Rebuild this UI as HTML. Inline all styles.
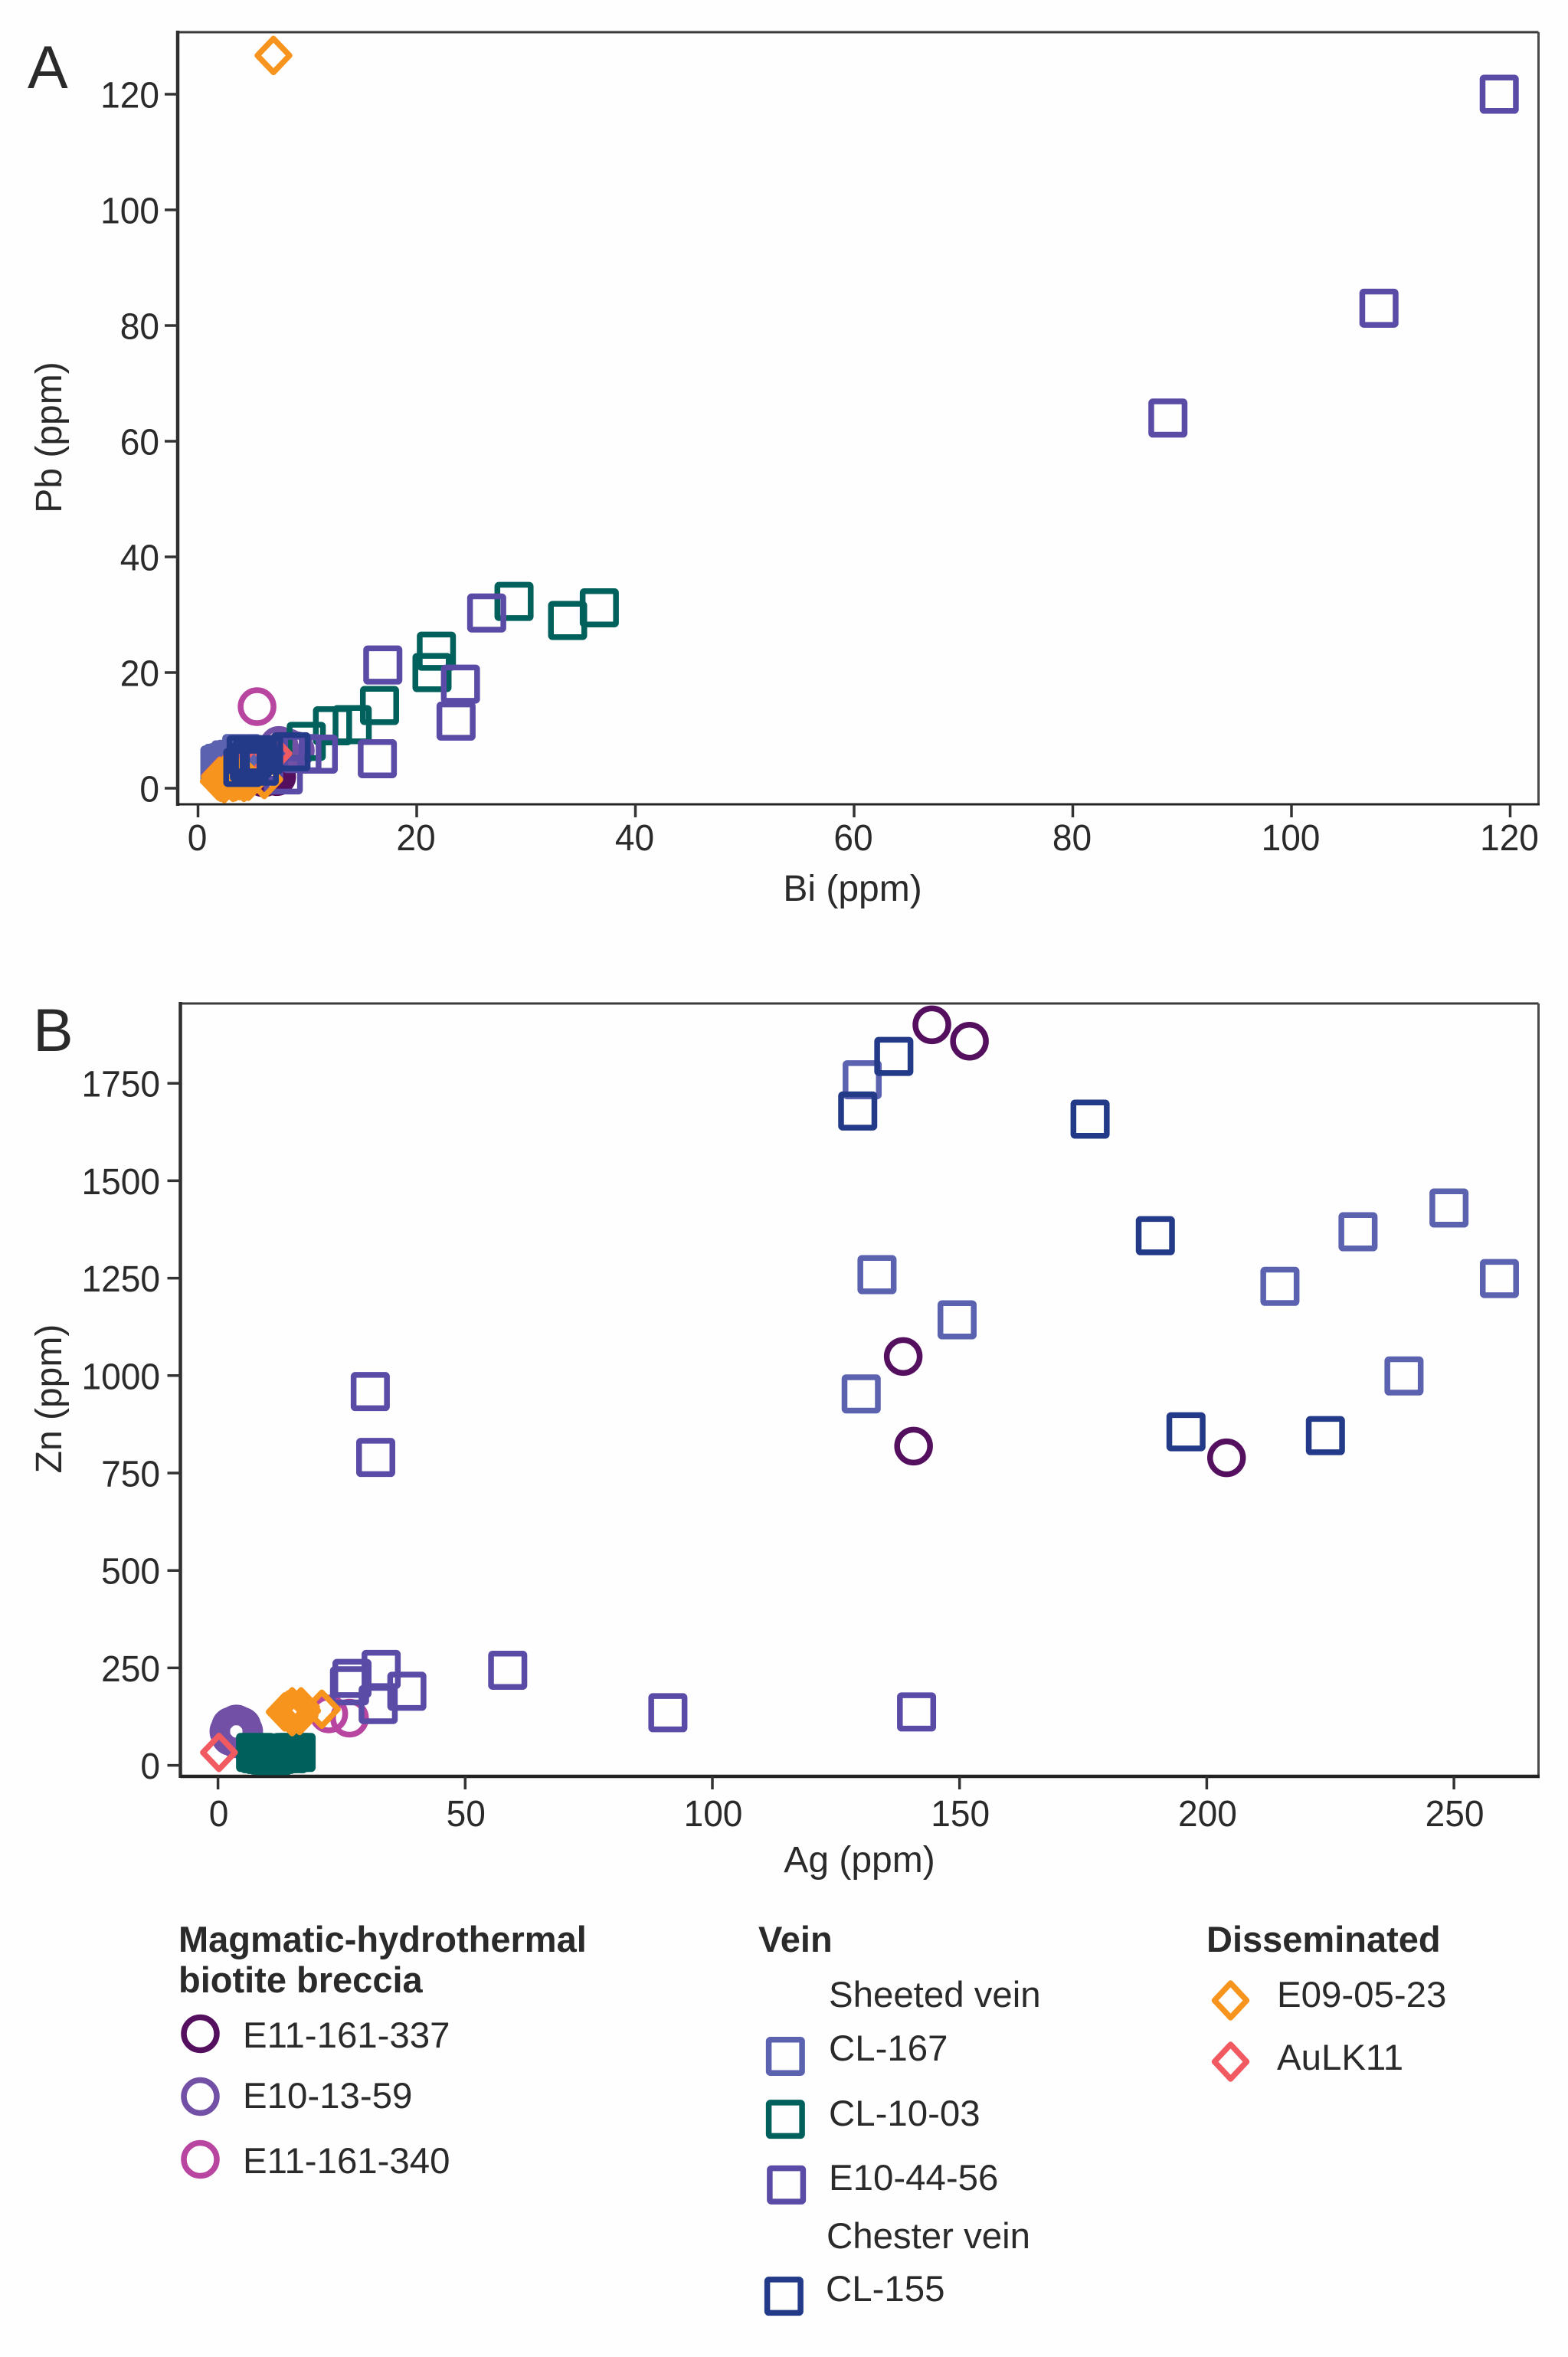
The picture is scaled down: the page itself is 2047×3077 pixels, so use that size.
<!DOCTYPE html>
<html lang="en">
<head>
<meta charset="utf-8">
<title>Bi-Pb and Ag-Zn scatter plots</title>
<style>
html,body{margin:0;padding:0;background:#fefefe;}
svg{display:block;}
text{font-family:"Liberation Sans",sans-serif;fill:#2a2a2a;}
.tick{font-size:48px;}
.axis-title{font-size:48px;}
.panel{font-size:79px;}
.legend-head{font-size:47px;font-weight:bold;}
.legend-text{font-size:47.4px;}
</style>
</head>
<body>
<svg id="chart" xmlns="http://www.w3.org/2000/svg" width="2047" height="3077" viewBox="0 0 2047 3077">
  <rect x="0" y="0" width="2047" height="3077" fill="#fefefe"/>

  <text class="panel" x="36" y="115">A</text>
  <text class="panel" x="43" y="1372">B</text>

  <text class="axis-title" x="1113" y="1176" text-anchor="middle">Bi (ppm)</text>
  <text class="axis-title" text-anchor="middle" transform="translate(80,571) rotate(-90)">Pb (ppm)</text>
  <text class="axis-title" x="1122" y="2444" text-anchor="middle">Ag (ppm)</text>
  <text class="axis-title" text-anchor="middle" transform="translate(80,1826) rotate(-90)">Zn (ppm)</text>

  <g id="panel-a"></g>
  <g id="panel-b"></g>

  <g>
    <text class="legend-head" x="233" y="2548">Magmatic-hydrothermal</text>
    <text class="legend-head" x="233" y="2601">biotite breccia</text>
    <circle cx="261.5" cy="2655" r="21.5" fill="none" stroke="#54105f" stroke-width="7.5"/>
    <text class="legend-text" x="317" y="2673">E11-161-337</text>
    <circle cx="261.5" cy="2737" r="21.5" fill="none" stroke="#7250a6" stroke-width="7.5"/>
    <text class="legend-text" x="317" y="2752">E10-13-59</text>
    <circle cx="261.5" cy="2819" r="21.5" fill="none" stroke="#b8459f" stroke-width="7.5"/>
    <text class="legend-text" x="317" y="2837">E11-161-340</text>
  </g>

  <g>
    <text class="legend-head" x="990" y="2548">Vein</text>
    <text class="legend-text" x="1082" y="2620">Sheeted vein</text>
    <rect x="1003.6" y="2662.7" width="43.5" height="43.5" rx="2" fill="none" stroke="#5b62b0" stroke-width="7.5"/>
    <text class="legend-text" x="1082" y="2690">CL-167</text>
    <rect x="1003.6" y="2744.9" width="43.5" height="43.5" rx="2" fill="none" stroke="#00605c" stroke-width="7.5"/>
    <text class="legend-text" x="1082" y="2775">CL-10-03</text>
    <rect x="1004.9" y="2830.6" width="43.5" height="43.5" rx="2" fill="none" stroke="#5a4ba6" stroke-width="7.5"/>
    <text class="legend-text" x="1082" y="2859">E10-44-56</text>
    <text class="legend-text" x="1079" y="2935">Chester vein</text>
    <rect x="1001.6" y="2975.9" width="43.5" height="43.5" rx="2" fill="none" stroke="#223a87" stroke-width="7.5"/>
    <text class="legend-text" x="1078" y="3004">CL-155</text>
  </g>

  <g>
    <text class="legend-head" x="1575" y="2548">Disseminated</text>
    <polygon points="1606.5,2589 1627.5,2611.5 1606.5,2634 1585.5,2611.5" fill="none" stroke="#f7941d" stroke-width="7.5" stroke-linejoin="round"/>
    <text class="legend-text" x="1667" y="2620">E09-05-23</text>
    <polygon points="1606.5,2669 1627.5,2691.5 1606.5,2714 1585.5,2691.5" fill="none" stroke="#f15a60" stroke-width="7.5" stroke-linejoin="round"/>
    <text class="legend-text" x="1667" y="2702">AuLK11</text>
  </g>
</svg>

<script>
// Panel A tick labels
const biTicks = [0, 20, 40, 60, 80, 100, 120];
const pbTicks = [0, 20, 40, 60, 80, 100, 120];
// Panel B tick labels
const agTicks = [0, 50, 100, 150, 200, 250];
const znTicks = [0, 250, 500, 750, 1000, 1250, 1500, 1750];

// Panel A: Bi (x) and Pb (y), ppm
const biE11337 = [7.2, 6.8, 6.0, 6.5];
const pbE11337 = [2.0, 2.2, 1.8, 2.5];
const biE101359 = [7.4, 8.2, 8.9, 7.6];
const pbE101359 = [7.4, 7.0, 6.5, 6.2];
const biE11340 = [5.4];
const pbE11340 = [14.1];
const biCL167 = [2.3, 3.0, 4.0, 2.6, 2.0, 3.4, 2.7, 3.5, 2.2, 3.1];
const pbCL167 = [4.3, 4.9, 6.0, 4.4, 4.0, 5.0, 3.2, 3.8, 3.6, 4.2];
const biCL1003 = [28.9, 36.7, 33.8, 21.8, 21.4, 16.6, 14.1, 12.3, 9.9];
const pbCL1003 = [32.3, 31.2, 29.0, 23.7, 20.0, 14.3, 11.0, 10.8, 8.1];
const biE104456 = [119, 108, 88.7, 26.4, 16.9, 24.0, 23.6, 16.4, 11.0, 7.8, 6.0, 9.5];
const pbE104456 = [120, 83, 64, 30.3, 21.3, 18.0, 11.6, 5.1, 5.9, 2.3, 4.5, 6.0];
const biAuLK11 = [2.0, 3.0, 4.6, 6.9, 5.5];
const pbAuLK11 = [2.1, 3.5, 5.0, 6.0, 4.5];
const biE090523 = [2.1, 2.3, 2.6, 3.0, 3.4, 3.8, 6.06, 6.9, 1.9, 2.4, 2.8, 3.2, 2.5, 3.6, 4.2, 4.6, 3.0, 2.0];
const pbE090523 = [1.0, 1.6, 1.2, 1.5, 1.1, 1.3, 1.5, 126.7, 1.2, 0.8, 1.9, 1.0, 2.4, 1.9, 1.0, 1.2, 2.4, 2.0];
const biCL155 = [4.1, 4.4, 5.0, 5.6, 6.0, 8.5, 4.7];
const pbCL155 = [3.6, 5.8, 5.2, 3.8, 5.8, 6.3, 4.5];

// Panel B: Ag (x) and Zn (y), ppm
const agE11337 = [144.4, 152.0, 138.6, 140.7, 204.0];
const znE11337 = [1900, 1858, 1049, 819, 789];
const agE101359 = [3.7, 2.2, 5.2, 3.7, 2.6, 4.8, 2.6, 4.8];
const znE101359 = [106, 87, 87, 68, 100, 100, 74, 74];
const agE11340 = [26.6, 22.4];
const znE11340 = [121, 132];
const agCL167 = [130.3, 133.3, 149.5, 130.1, 214.8, 230.6, 249.0, 259.2, 239.9];
const znCL167 = [1759, 1259, 1143, 953, 1229, 1369, 1430, 1249, 999];
const agCL1003 = [7.6, 8.4, 9.3, 10.2, 11.0, 11.8, 12.6, 13.4, 14.2, 15.0, 15.8];
const znCL1003 = [33, 30, 28, 26, 25, 28, 30, 32, 30, 33, 33];
const agE104456 = [58.6, 33.0, 27.1, 26.6, 32.4, 38.2, 91.0, 141.3, 30.8, 31.9];
const znE104456 = [244, 246, 223, 204, 156, 190, 135, 137, 959, 790];
const agAuLK11 = [0.2];
const znAuLK11 = [33];
const agE090523 = [13.5, 14.5, 15.5, 16.8, 16.2, 17.0, 21.0, 15.0, 15.0, 14.2, 16.5];
const znE090523 = [137, 135, 140, 150, 135, 140, 144, 150, 125, 142, 128];
const agCL155 = [136.7, 129.4, 176.4, 189.6, 195.8, 224.0];
const znCL155 = [1819, 1679, 1658, 1359, 856, 846];

const SVG_NS = 'http://www.w3.org/2000/svg';

function scaleA_x(v) { return 258.5 + v * 14.275; }
function scaleA_y(v) { return 1029 - v * 7.55; }
function scaleB_x(v) { return 284.6 + v * 6.454; }
function scaleB_y(v) { return 2304.6 - v * 0.5088; }

function make(tag, attrs) {
  const el = document.createElementNS(SVG_NS, tag);
  for (const k in attrs) el.setAttribute(k, attrs[k]);
  return el;
}

function drawMarker(parent, shape, color, cx, cy, name) {
  let el;
  if (shape === 'circle') {
    el = make('circle', { cx: cx, cy: cy, r: 21.5, fill: 'none', stroke: color, 'stroke-width': 7.5 });
  } else if (shape === 'square') {
    el = make('rect', { x: cx - 21.75, y: cy - 21.75, width: 43.5, height: 43.5, rx: 2, fill: 'none', stroke: color, 'stroke-width': 7.5 });
  } else {
    const pts = [cx, cy - 22, cx + 21, cy, cx, cy + 22, cx - 21, cy].join(' ');
    el = make('polygon', { points: pts, fill: 'none', stroke: color, 'stroke-width': 7.5, 'stroke-linejoin': 'round' });
  }
  
  
  parent.appendChild(el);
}

function drawSeries(parent, label, shape, color, xs, ys, sx, sy) {
  const g = make('g', {});
  
  
  for (let i = 0; i < xs.length; i++) {
    drawMarker(g, shape, color, sx(xs[i]), sy(ys[i]), 'point-' + label);
  }
  parent.appendChild(g);
}

function drawFrame(parent, box, bottomWidth) {
  const top = make('line', { x1: box.left, y1: box.top, x2: box.right, y2: box.top, stroke: '#3a3a3a', 'stroke-width': 3 });
  
  
  parent.appendChild(top);
  const right = make('line', { x1: box.right, y1: box.top, x2: box.right, y2: box.bottom, stroke: '#4a4a4a', 'stroke-width': 3 });
  
  
  parent.appendChild(right);
  const left = make('line', { x1: box.left, y1: box.top - 2, x2: box.left, y2: box.bottom + 2, stroke: '#2e2e2e', 'stroke-width': 4.5 });
  
  
  parent.appendChild(left);
  const bottom = make('line', { x1: box.left, y1: box.bottom, x2: box.right + 1.5, y2: box.bottom, stroke: '#222', 'stroke-width': bottomWidth });
  
  
  parent.appendChild(bottom);
}

function drawXTicks(parent, ticks, sx, box, baseline, shift) {
  ticks.forEach(function (t) {
    const x = sx(t);
    const tick = make('line', { x1: x, y1: box.bottom, x2: x, y2: box.bottom + 17, stroke: '#333', 'stroke-width': 3.5 });
    
    
    parent.appendChild(tick);
    const lab = make('text', { transform: 'translate(' + (x + shift) + ',' + baseline + ') scale(0.96,1)', 'text-anchor': 'middle', 'class': 'tick' });
    
    
    lab.textContent = t;
    parent.appendChild(lab);
  });
}

function drawYTicks(parent, ticks, sy, box, labelRight) {
  ticks.forEach(function (t) {
    const y = sy(t);
    const tick = make('line', { x1: box.left - 17, y1: y, x2: box.left, y2: y, stroke: '#333', 'stroke-width': 3.5 });
    
    
    parent.appendChild(tick);
    const lab = make('text', { transform: 'translate(' + labelRight + ',' + (y + 17.5) + ') scale(0.96,1)', 'text-anchor': 'end', 'class': 'tick' });
    
    
    lab.textContent = t;
    parent.appendChild(lab);
  });
}

const C_337 = '#54105f', C_59 = '#7250a6', C_340 = '#b8459f', C_167 = '#5b62b0',
      C_1003 = '#00605c', C_4456 = '#5a4ba6', C_155 = '#223a87', C_0523 = '#f7941d', C_LK = '#f15a60';

const plotA = document.getElementById('panel-a');
const boxA = { left: 232, right: 2008.5, top: 42, bottom: 1050 };
drawFrame(plotA, boxA, 3);
drawXTicks(plotA, biTicks, scaleA_x, boxA, 1110, -1);
drawYTicks(plotA, pbTicks, scaleA_y, boxA, 208);
drawSeries(plotA, 'e11-161-337', 'circle', C_337, biE11337, pbE11337, scaleA_x, scaleA_y);
drawSeries(plotA, 'e10-13-59', 'circle', C_59, biE101359, pbE101359, scaleA_x, scaleA_y);
drawSeries(plotA, 'e11-161-340', 'circle', C_340, biE11340, pbE11340, scaleA_x, scaleA_y);
drawSeries(plotA, 'cl-167', 'square', C_167, biCL167, pbCL167, scaleA_x, scaleA_y);
drawSeries(plotA, 'cl-10-03', 'square', C_1003, biCL1003, pbCL1003, scaleA_x, scaleA_y);
drawSeries(plotA, 'e10-44-56', 'square', C_4456, biE104456, pbE104456, scaleA_x, scaleA_y);
drawSeries(plotA, 'auk11', 'diamond', C_LK, biAuLK11, pbAuLK11, scaleA_x, scaleA_y);
drawSeries(plotA, 'e09-05-23', 'diamond', C_0523, biE090523, pbE090523, scaleA_x, scaleA_y);
drawSeries(plotA, 'cl-155', 'square', C_155, biCL155, pbCL155, scaleA_x, scaleA_y);

const plotB = document.getElementById('panel-b');
const boxB = { left: 235.5, right: 2008.5, top: 1310, bottom: 2319 };
drawFrame(plotB, boxB, 4.5);
drawXTicks(plotB, agTicks, scaleB_x, boxB, 2384, 1);
drawYTicks(plotB, znTicks, scaleB_y, boxB, 209);
drawSeries(plotB, 'e11-161-337', 'circle', C_337, agE11337, znE11337, scaleB_x, scaleB_y);
drawSeries(plotB, 'e10-13-59', 'circle', C_59, agE101359, znE101359, scaleB_x, scaleB_y);
drawSeries(plotB, 'e11-161-340', 'circle', C_340, agE11340, znE11340, scaleB_x, scaleB_y);
drawSeries(plotB, 'cl-167', 'square', C_167, agCL167, znCL167, scaleB_x, scaleB_y);
drawSeries(plotB, 'cl-10-03', 'square', C_1003, agCL1003, znCL1003, scaleB_x, scaleB_y);
drawSeries(plotB, 'e10-44-56', 'square', C_4456, agE104456, znE104456, scaleB_x, scaleB_y);
drawSeries(plotB, 'e09-05-23', 'diamond', C_0523, agE090523, znE090523, scaleB_x, scaleB_y);
drawSeries(plotB, 'auk11', 'diamond', C_LK, agAuLK11, znAuLK11, scaleB_x, scaleB_y);
drawSeries(plotB, 'cl-155', 'square', C_155, agCL155, znCL155, scaleB_x, scaleB_y);
</script>
</body>
</html>
